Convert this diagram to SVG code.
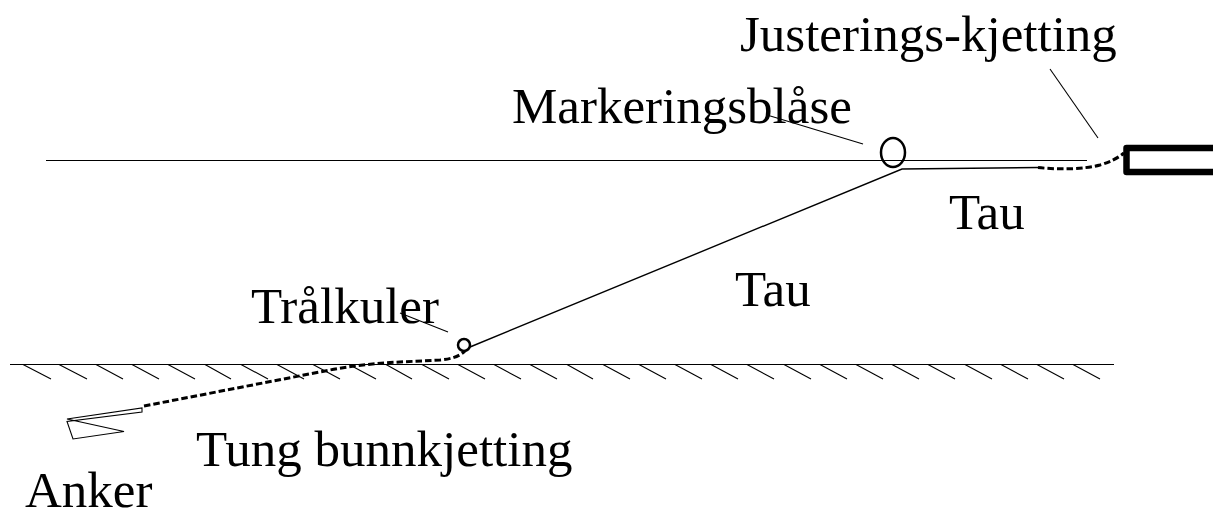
<svg xmlns="http://www.w3.org/2000/svg" width="1213" height="508" viewBox="0 0 1213 508">
<style>
text{font-family:"Liberation Serif","Times New Roman",serif;font-size:51px;fill:#000}
.l{fill:none;stroke:#000;stroke-width:1.1}
.r{fill:none;stroke:#000;stroke-width:1.4}
.d{fill:none;stroke:#000;stroke-width:3;stroke-dasharray:6.500 3}
</style>
<rect width="1213" height="508" fill="#fff"/>
<g id="connectors">
<path class="l" d="M46 160.500H1087"/>
<path class="l" d="M10 364.500H1114"/>
<path class="l" d="M23 364.500L51 379M59 364.500L87 379M96 364.500L123 379M132 364.500L159 379M168 364.500L195 379M205 364.500L231 379M241 364.500L268 379M277 364.500L304 379M313 364.500L340 379M349 364.500L376 379M386 364.500L412 379M422 364.500L449 379M458 364.500L485 379M494 364.500L521 379M530 364.500L557 379M567 364.500L593 379M603 364.500L630 379M639 364.500L666 379M675 364.500L702 379M711 364.500L738 379M747 364.500L774 379M784 364.500L811 379M820 364.500L847 379M856 364.500L883 379M892 364.500L919 379M928 364.500L955 379M965 364.500L992 379M1001 364.500L1028 379M1037 364.500L1064 379M1073 364.500L1100 379"/>
<path class="r" d="M470 347L902 169L1038 167.500"/>
<path class="d" d="M1038 167.500C1060 170 1085 169 1100 165C1110 162 1118 158 1124 153"/>
<path class="d" d="M144 406L330 370C350 366 370 364 390 362.500L440 360C452 359 460 356 465 351"/>
<path class="l" d="M767 115L863 144"/>
<path class="l" d="M1050 69L1098 138"/>
<path class="l" d="M400 313L448 332"/>
</g>
<g id="bladder"><ellipse cx="893" cy="152.500" rx="12" ry="14.500" fill="none" stroke="#000" stroke-width="2.500"/></g>
<g id="float"><circle cx="464" cy="345" r="6" fill="none" stroke="#000" stroke-width="2.500"/></g>
<g id="vessel"><rect x="1126.500" y="148" width="100" height="24" fill="none" stroke="#000" stroke-width="6.500" stroke-linejoin="round"/></g>
<g id="anchor"><path class="l" d="M67 419L142 408L142 412L67 421.500L73 439L124 431.500L67 419Z"/></g>
<g id="labels">
<text x="740" y="51">Justerings-kjetting</text>
<text x="512" y="123">Markeringsblåse</text>
<text x="949" y="229">Tau</text>
<text x="735" y="306">Tau</text>
<text x="251" y="323">Trålkuler</text>
<text x="196" y="466">Tung bunnkjetting</text>
<text x="25" y="507">Anker</text>
</g>
</svg>
